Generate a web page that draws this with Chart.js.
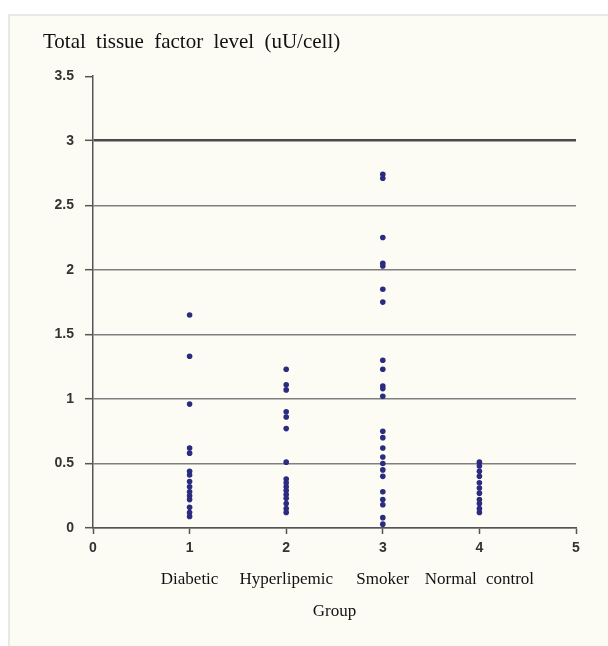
<!DOCTYPE html>
<html lang="en">
<head>
	<meta charset="UTF-8">
	<title>tissue factor</title>
	<script src="https://cdn.jsdelivr.net/npm/chart.js@4/dist/chart.umd.min.js"></script>
	<style>
		body{margin:0;background:#fff;}
		#panel{position:absolute;left:8px;top:14px;width:600px;height:632px;background:#fcfcf5;
			border-left:2px solid #e8e8e8;border-top:2px solid #e8e8e8;}
		#panel canvas{display:block;}
	</style>
</head>
<body>
	<div id="panel"><canvas id="c" width="598" height="630"></canvas></div>

	<script>

		// group positions on the x axis + names
		var groups=[1,2,3,4];
		var groupNames=["Diabetic","Hyperlipemic","Smoker","Normal control"];

		// tissue factor values (uU/cell)
		var diabetic=[1.65,1.33,0.96,0.62,0.58,0.44,0.41,0.36,0.32,0.28,0.25,0.22,0.16,0.12,0.09];
		var hyperlipemic=[1.23,1.11,1.07,0.90,0.86,0.77,0.51,0.38,0.35,0.32,0.29,0.26,0.23,0.19,0.15,0.12];
		var smoker=[2.74,2.71,2.25,2.05,2.03,1.85,1.75,1.30,1.23,1.10,1.08,1.02,0.75,0.70,0.62,0.55,0.50,0.45,0.40,0.28,0.22,0.18,0.08,0.03];
		var normal=[0.51,0.48,0.44,0.40,0.35,0.31,0.27,0.22,0.19,0.15,0.12];

		var yTicks=[0,0.5,1,1.5,2,2.5,3,3.5];
		var xTicks=[0,1,2,3,4,5];

		var series=[diabetic,hyperlipemic,smoker,normal];

		var datasets=series.map(function(vals,i){
			return {
				label:groupNames[i],
				data:vals.map(function(v){ return {x:groups[i],y:v}; }),
				backgroundColor:"#2b2b80",
				borderWidth:0,
				pointRadius:2.8,
				pointHoverRadius:2.8
			};
		});

		var serif="'Liberation Serif', 'Times New Roman', serif";
		var sans="'Liberation Sans', Arial, sans-serif";

		// the scanned figure has wide gaps between words
		var wideWords={
			id:"wideWords",
			beforeInit:function(chart){ chart.ctx.wordSpacing="5px"; },
			beforeDraw:function(chart){ chart.ctx.wordSpacing="5px"; }
		};

		new Chart(document.getElementById("c"),{
			type:"scatter",
			data:{datasets:datasets},
			plugins:[wideWords],
			options:{
				responsive:false,
				animation:false,
				layout:{padding:{left:33,right:32,top:14,bottom:22}},
				plugins:{
					legend:{display:false},
					tooltip:{enabled:false},
					title:{
						display:true,
						text:"Total tissue factor level (uU/cell)",
						align:"start",
						color:"#111",
						font:{family:serif,size:21,weight:"normal"},
						padding:{top:0,bottom:21}
					}
				},
				scales:{
					x:{
						type:"linear",
						min:0,max:5,
						afterBuildTicks:function(s){ s.ticks=xTicks.map(function(v){return {value:v};}); },
						afterFit:function(s){ s.height=36; },
						grid:{drawOnChartArea:false,drawTicks:true,tickLength:6,tickColor:"#555",tickWidth:1.5},
						border:{display:true,color:"#555",width:1.5},
						ticks:{color:"#333",padding:6,font:{family:sans,size:14,weight:"bold"}}
					},
					x2:{
						type:"linear",
						position:"bottom",
						weight:1,
						min:0,max:5,
						afterBuildTicks:function(s){ s.ticks=groups.map(function(v){return {value:v};}); },
						afterFit:function(s){ s.height=60; },
						grid:{display:false,drawTicks:false},
						border:{display:false},
						ticks:{
							color:"#111",padding:5,autoSkip:false,maxRotation:0,
							font:{family:serif,size:17},
							callback:function(v){ return groupNames[groups.indexOf(v)]; }
						},
						title:{display:true,text:"Group",color:"#111",font:{family:serif,size:17},padding:{top:0,bottom:2}}
					},
					y:{
						min:0,max:3.5,
						afterBuildTicks:function(s){ s.ticks=yTicks.map(function(v){return {value:v};}); },
						afterFit:function(s){ s.width=50; },
						grid:{
							drawTicks:true,tickLength:8,tickColor:"#555",tickWidth:1.5,
							color:function(ctx){
								var v=ctx.tick && ctx.tick.value;
								if(v===3.5) return "rgba(0,0,0,0)";
								if(v===3) return "#4a4a4a";
								return "#7f7f7f";
							},
							lineWidth:function(ctx){
								return (ctx.tick && ctx.tick.value===3) ? 2.6 : 1.4;
							}
						},
						border:{display:true,color:"#555",width:1.5},
						ticks:{color:"#333",padding:11,font:{family:sans,size:14,weight:"bold"},
							callback:function(v){ return String(v); }}
					}
				}
			}
		});

	</script>

</body>
</html>
